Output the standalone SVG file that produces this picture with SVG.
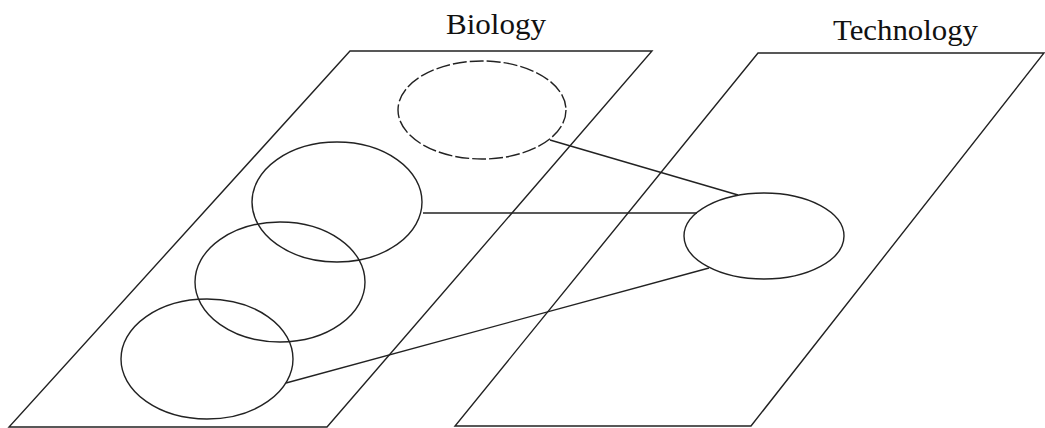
<svg xmlns="http://www.w3.org/2000/svg" width="1045" height="428" viewBox="0 0 1045 428">
<style>
.s{fill:none;stroke:#222;stroke-width:1.4}
.d{stroke-dasharray:14 3}
.t{font-family:"Liberation Serif",serif;font-size:30px;fill:#111}
</style>
<rect width="1045" height="428" fill="#fff"/>
<g id="biology-plane">
<polygon class="s" points="350,51 652,51 327,427 9,427"/>
<text class="t" x="446" y="34" textLength="100" lengthAdjust="spacingAndGlyphs">Biology</text>
</g>
<g id="technology-plane">
<polygon class="s" points="758,53 1044,53 751,426 455,426"/>
<text class="t" x="833" y="40" textLength="145" lengthAdjust="spacingAndGlyphs">Technology</text>
</g>
<g id="connectors">
<line class="s" x1="550" y1="140" x2="738" y2="195"/>
<line class="s" x1="423" y1="213" x2="697" y2="213"/>
<line class="s" x1="286" y1="383" x2="709" y2="268"/>
</g>
<g id="bio-e1"><ellipse class="s d" cx="482" cy="110" rx="84" ry="49"/></g>
<g id="bio-e2"><ellipse class="s" cx="337" cy="202" rx="85" ry="60"/></g>
<g id="bio-e3"><ellipse class="s" cx="280" cy="282" rx="85" ry="60"/></g>
<g id="bio-e4"><ellipse class="s" cx="207" cy="359" rx="86" ry="60"/></g>
<g id="tech-e1"><ellipse class="s" cx="764" cy="236" rx="80" ry="43"/></g>
</svg>
